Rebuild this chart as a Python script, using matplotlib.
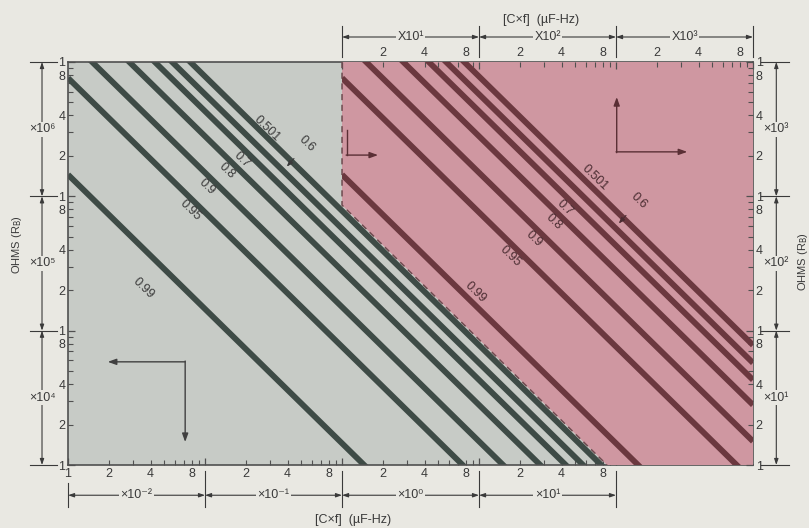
import numpy as np
import matplotlib.pyplot as plt
from matplotlib.patches import Polygon
from matplotlib.ticker import FixedLocator, FuncFormatter

plt.rcParams['font.family'] = ['Liberation Sans', 'DejaVu Sans']

# curves R_B * (C x f) = const, same constants on both sheets
curve_labels = ["0.501", "0.6", "0.7", "0.8", "0.9", "0.95", "0.99"]
rcf_products = [7.8e5, 5.75e5, 4.3e5, 2.8e5, 1.5e5, 7.6e4, 1.45e4]

# C x f where each curve label sits (grey sheet / red sheet) and its offset from the curve (pt)
gray_label_cf = [0.284, 0.371, 0.186, 0.145, 0.1035, 0.0778, 0.0352]
gray_label_off = [6, 0, -9, -9, -9, -9, -29]
red_label_cf = [703, 984, 425, 352, 252, 168, 93.5]
red_label_off = [9, 0, -9, -9, -9, -10, 9]

# red sheet lower boundary: R_B * (C x f) in red-sheet units
red_boundary_product = 8.6e3

# scale decades and their names
bottom_decades = [1e-2, 1e-1, 1e0, 1e1, 1e2]
bottom_names = ["×10⁻²", "×10⁻¹", "×10⁰", "×10¹"]
top_decades = [1e1, 1e2, 1e3, 1e4]
top_names = ["X10¹", "X10²", "X10³"]
left_decades = [1e4, 1e5, 1e6, 1e7]
left_names = ["×10⁴", "×10⁵", "×10⁶"]
right_decades = [1e1, 1e2, 1e3, 1e4]
right_names = ["×10¹", "×10²", "×10³"]

PAGE = '#e9e8e2'
GRAY_BG = '#c7cbc6'
RED_BG = '#cf97a1'
GRAY_LINE = '#3e4b46'
RED_LINE = '#6b383f'
INK = '#3a3a3a'


def minors(decades):
    return [m * d for d in decades[:-1] for m in range(2, 10)]


def mant_formatter(one_at):
    def f(v, pos):
        m = int(round(v / 10 ** np.floor(np.log10(v) + 1e-9)))
        if m in (2, 4, 8):
            return str(m)
        if m == 1 and any(np.isclose(v, o) for o in one_at):
            return "1"
        return ""
    return FuncFormatter(f)


fig = plt.figure(figsize=(8.09, 5.28), dpi=100, facecolor=PAGE)
rect = [0.0841, 0.1193, 0.8467, 0.7633]

# grey sheet (bottom / left scales)
ax = fig.add_axes(rect)
ax.set_xscale('log')
ax.set_yscale('log')
ax.set_xlim(1e-2, 1e3)
ax.set_ylim(1e4, 1e7)
ax.set_facecolor(GRAY_BG)
for s in ax.spines.values():
    s.set_color('#505050')
    s.set_linewidth(1.2)

# red sheet (top / right scales)
ax2 = fig.add_axes(rect, facecolor='none')
ax2.set_xscale('log')
ax2.set_yscale('log')
ax2.set_xlim(1e-1, 1e4)
ax2.set_ylim(1e1, 1e4)
for s in ax2.spines.values():
    s.set_visible(False)

# ticks
ax.xaxis.set_major_locator(FixedLocator(bottom_decades))
ax.xaxis.set_minor_locator(FixedLocator(minors(bottom_decades)))
ax.xaxis.set_major_formatter(mant_formatter([1e-2]))
ax.xaxis.set_minor_formatter(mant_formatter([]))
ax.yaxis.set_major_locator(FixedLocator(left_decades))
ax.yaxis.set_minor_locator(FixedLocator(minors(left_decades)))
ax.yaxis.set_major_formatter(mant_formatter(left_decades))
ax.yaxis.set_minor_formatter(mant_formatter([]))
ax.tick_params(which='both', direction='in', top=False, right=False,
               labelsize=9, pad=2, color='#505050', labelcolor=INK)
ax.tick_params(which='major', length=5, width=0.9)
ax.tick_params(which='minor', length=3.5, width=0.8)

ax2.xaxis.set_ticks_position('top')
ax2.yaxis.set_ticks_position('right')
ax2.xaxis.set_major_locator(FixedLocator(top_decades))
ax2.xaxis.set_minor_locator(FixedLocator(minors(top_decades)))
ax2.xaxis.set_major_formatter(mant_formatter([]))
ax2.xaxis.set_minor_formatter(mant_formatter([]))
ax2.yaxis.set_major_locator(FixedLocator(right_decades))
ax2.yaxis.set_minor_locator(FixedLocator(minors(right_decades)))
ax2.yaxis.set_major_formatter(mant_formatter(right_decades))
ax2.yaxis.set_minor_formatter(mant_formatter([]))
ax2.tick_params(which='both', direction='in', labelsize=9, pad=2,
                color='#505050', labelcolor=INK)
ax2.tick_params(which='major', length=5, width=0.9)
ax2.tick_params(which='minor', length=3.5, width=0.8)

# grey curves
cf_g = np.geomspace(1e-2, 1e3, 400)
for k in rcf_products:
    ax.plot(cf_g, k / cf_g, color=GRAY_LINE, lw=4.2, solid_capstyle='butt')

# red region and curves
b = red_boundary_product
red_poly = Polygon([(1e1, 1e4), (1e4, 1e4), (1e4, 1e1), (b / 1e1, 1e1), (1e1, b / 1e1)],
                   closed=True, fc=RED_BG, ec='none')
ax2.add_patch(red_poly)
ax2.plot([1e1, 1e1, b / 1e1], [1e4, b / 1e1, 1e1], color='#6e4a4f', lw=1.1,
         ls=(0, (4, 3)))
cf_r = np.geomspace(1e1, 1e4, 400)
for k in rcf_products:
    ln, = ax2.plot(cf_r, k / cf_r, color=RED_LINE, lw=4.2, solid_capstyle='butt')
    ln.set_clip_path(red_poly)

# curve labels
for axis, cfs, offs, k_col in ((ax, gray_label_cf, gray_label_off, INK),
                               (ax2, red_label_cf, red_label_off, '#4a2c31')):
    for name, k, cf, off in zip(curve_labels, rcf_products, cfs, offs):
        if name == "0.6":
            axis.annotate(name, xy=(cf, k / cf), xytext=(17, 19), textcoords='offset points',
                          rotation=-44, ha='center', va='center', fontsize=9, color=k_col,
                          arrowprops=dict(arrowstyle='-|>,head_length=0.4,head_width=0.15',
                                          color=k_col, lw=0.8, shrinkA=1, shrinkB=4))
        else:
            axis.annotate(name, xy=(cf, k / cf), xytext=(0, off), textcoords='offset points',
                          rotation=-44, rotation_mode='anchor', ha='center', va='center',
                          fontsize=9, color=k_col)

arrow_kw = dict(arrowstyle='<|-|>,head_length=0.35,head_width=0.12', color=INK, lw=0.8,
                shrinkA=0, shrinkB=0)
box_kw = dict(fc=PAGE, ec='none', pad=1.2)

# bottom scale brackets
tr = ax.get_xaxis_transform()
for i, d in enumerate(bottom_decades):
    ax.plot([d, d], [-0.045 if i == 0 else -0.015, -0.105], transform=tr, clip_on=False,
            color=INK, lw=0.8)
for a, c, name in zip(bottom_decades[:-1], bottom_decades[1:], bottom_names):
    ax.annotate('', xy=(a, -0.075), xytext=(c, -0.075), xycoords=tr, textcoords=tr,
                arrowprops=arrow_kw, annotation_clip=False)
    ax.text(np.sqrt(a * c), -0.075, name, transform=tr, ha='center', va='center',
            fontsize=9, color=INK, bbox=box_kw)
ax.text(0.416, -0.136, "[C×f]  (µF-Hz)", transform=ax.transAxes, ha='center', va='center',
        fontsize=9, color=INK)

# top scale brackets
tr2 = ax2.get_xaxis_transform()
for d in top_decades:
    ax2.plot([d, d], [1.012, 1.09], transform=tr2, clip_on=False, color=INK, lw=0.8)
for a, c, name in zip(top_decades[:-1], top_decades[1:], top_names):
    ax2.annotate('', xy=(a, 1.062), xytext=(c, 1.062), xycoords=tr2, textcoords=tr2,
                 arrowprops=arrow_kw, annotation_clip=False)
    ax2.text(np.sqrt(a * c), 1.062, name, transform=tr2, ha='center', va='center',
             fontsize=9, color=INK, bbox=box_kw)
ax.text(0.69, 1.104, "[C×f]  (µF-Hz)", transform=ax.transAxes, ha='center', va='center',
        fontsize=9, color=INK)

# left scale brackets
trl = ax.get_yaxis_transform()
for d in left_decades:
    ax.plot([-0.055, -0.016], [d, d], transform=trl, clip_on=False, color=INK, lw=0.8)
for a, c, name in zip(left_decades[:-1], left_decades[1:], left_names):
    ax.annotate('', xy=(-0.038, a), xytext=(-0.038, c), xycoords=trl, textcoords=trl,
                arrowprops=arrow_kw, annotation_clip=False)
    ax.text(-0.038, np.sqrt(a * c), name, transform=trl, ha='center', va='center',
            fontsize=9, color=INK, bbox=box_kw)
ax.text(-0.0745, 0.546, "OHMS (R$_{\\mathrm{B}}$)", transform=ax.transAxes, rotation=90,
        ha='center', va='center', fontsize=8, color=INK)

# right scale brackets
trr = ax2.get_yaxis_transform()
for d in right_decades:
    ax2.plot([1.012, 1.052], [d, d], transform=trr, clip_on=False, color=INK, lw=0.8)
for a, c, name in zip(right_decades[:-1], right_decades[1:], right_names):
    ax2.annotate('', xy=(1.034, a), xytext=(1.034, c), xycoords=trr, textcoords=trr,
                 arrowprops=arrow_kw, annotation_clip=False)
    ax2.text(1.034, np.sqrt(a * c), name, transform=trr, ha='center', va='center',
             fontsize=9, color=INK, bbox=box_kw)
ax2.text(1.073, 0.504, "OHMS (R$_{\\mathrm{B}}$)", transform=ax2.transAxes, rotation=90,
         ha='center', va='center', fontsize=8, color=INK)

# "read these scales" indicators
ind_kw = dict(arrowstyle='-|>,head_length=0.5,head_width=0.18', lw=1.0, shrinkA=0, shrinkB=0)
ax.annotate('', xy=(0.058, 0.256), xytext=(0.171, 0.256), xycoords='axes fraction',
            arrowprops=dict(color='#404040', **ind_kw))
ax.annotate('', xy=(0.171, 0.057), xytext=(0.171, 0.258), xycoords='axes fraction',
            arrowprops=dict(color='#404040', **ind_kw))
ax2.annotate('', xy=(0.904, 0.777), xytext=(0.8, 0.777), xycoords='axes fraction',
             arrowprops=dict(color='#5a2f35', **ind_kw))
ax2.annotate('', xy=(0.801, 0.913), xytext=(0.801, 0.775), xycoords='axes fraction',
             arrowprops=dict(color='#5a2f35', **ind_kw))
ax2.annotate('', xy=(0.4526, 0.769), xytext=(0.406, 0.769), xycoords='axes fraction',
             arrowprops=dict(color='#5a2f35', **ind_kw))
ax2.plot([0.407, 0.407], [0.769, 0.831], transform=ax2.transAxes, color='#5a2f35', lw=1.0)

fig.savefig('out.png', dpi=100, facecolor=PAGE)
